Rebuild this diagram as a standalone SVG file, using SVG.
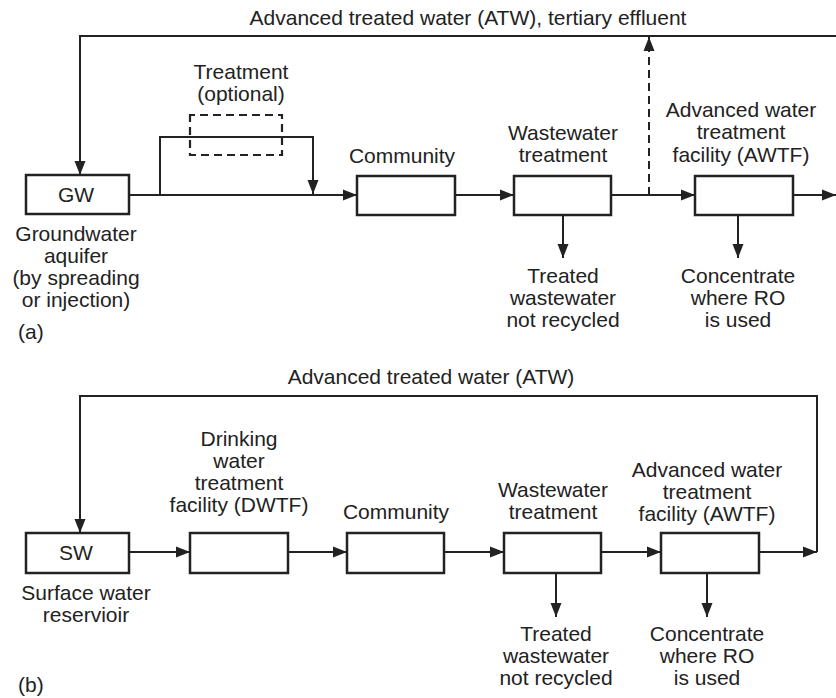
<svg xmlns="http://www.w3.org/2000/svg" width="836" height="698" viewBox="0 0 836 698">
<style>
text{font-family:"Liberation Sans",Arial,sans-serif;font-size:21px;fill:#222;text-anchor:middle}
.box{fill:#fff;stroke:#222;stroke-width:2.5}
.ln{fill:none;stroke:#222;stroke-width:2}
.arr{marker-end:url(#ah)}
.dash{stroke-dasharray:8,5}
</style>
<defs>
<marker id="ah" markerUnits="userSpaceOnUse" markerWidth="15" markerHeight="12" refX="14" refY="6" orient="auto">
<path d="M0,0.5 L14,6 L0,11.5 Z" fill="#222"/>
</marker>
</defs>
<g id="connectors">
<polyline class="ln arr" points="836,36 80,36 80,175"/>
<line class="ln arr" x1="129" y1="195" x2="357" y2="195"/>
<polyline class="ln arr" points="160,195 160,137 313,137 313,194"/>
<line class="ln arr" x1="455" y1="195" x2="514" y2="195"/>
<line class="ln arr" x1="611" y1="195" x2="695" y2="195"/>
<line class="ln dash arr" x1="649" y1="195" x2="649" y2="37"/>
<line class="ln arr" x1="793" y1="195" x2="836" y2="195"/>
<line class="ln arr" x1="563" y1="215" x2="563" y2="258"/>
<line class="ln arr" x1="738" y1="215" x2="738" y2="258"/>
<polyline class="ln" points="80,533 80,396 817,396 817,552"/>
<line class="ln arr" x1="80" y1="420" x2="80" y2="533"/>
<line class="ln arr" x1="129" y1="552" x2="190" y2="552"/>
<line class="ln arr" x1="288" y1="552" x2="347" y2="552"/>
<line class="ln arr" x1="444" y1="552" x2="504" y2="552"/>
<line class="ln arr" x1="601" y1="552" x2="661" y2="552"/>
<line class="ln arr" x1="759" y1="552" x2="817" y2="552"/>
<line class="ln arr" x1="556" y1="573" x2="556" y2="617"/>
<line class="ln arr" x1="707" y1="573" x2="707" y2="617"/>
</g>
<g id="treatment-optional">
<rect x="190" y="115" width="92" height="40" fill="none" stroke="#222" stroke-width="2.2" stroke-dasharray="8,5" stroke-dashoffset="3"/>
<text x="241" y="79">Treatment</text>
<text x="241" y="101">(optional)</text>
</g>
<g id="gw">
<rect class="box" x="26" y="175" width="103" height="39"/>
<text x="76" y="202">GW</text>
<text x="76" y="241">Groundwater</text>
<text x="76" y="263">aquifer</text>
<text x="76" y="285">(by spreading</text>
<text x="76" y="307">or injection)</text>
</g>
<g id="community-a">
<rect class="box" x="357" y="176" width="98" height="39"/>
<text x="402" y="163">Community</text>
</g>
<g id="ww-a">
<rect class="box" x="514" y="176" width="97" height="39"/>
<text x="563" y="140">Wastewater</text>
<text x="563" y="162">treatment</text>
</g>
<g id="awtf-a">
<rect class="box" x="695" y="176" width="98" height="39"/>
<text x="741" y="117">Advanced water</text>
<text x="741" y="139">treatment</text>
<text x="741" y="162">facility (AWTF)</text>
</g>
<g id="out-a">
<text x="563" y="283">Treated</text>
<text x="563" y="305">wastewater</text>
<text x="563" y="327">not recycled</text>
<text x="738" y="283">Concentrate</text>
<text x="738" y="305">where RO</text>
<text x="738" y="327">is used</text>
<text x="468" y="25">Advanced treated water (ATW), tertiary effluent</text>
<text x="18" y="339" style="text-anchor:start">(a)</text>
</g>
<g id="sw">
<rect class="box" x="26" y="533" width="103" height="40"/>
<text x="76" y="560">SW</text>
<text x="86" y="600">Surface water</text>
<text x="86" y="622">reservioir</text>
</g>
<g id="dwtf">
<rect class="box" x="190" y="533" width="98" height="40"/>
<text x="239" y="446">Drinking</text>
<text x="239" y="468">water</text>
<text x="239" y="490">treatment</text>
<text x="239" y="512">facility (DWTF)</text>
</g>
<g id="community-b">
<rect class="box" x="347" y="533" width="97" height="40"/>
<text x="396" y="519">Community</text>
</g>
<g id="ww-b">
<rect class="box" x="504" y="533" width="97" height="40"/>
<text x="553" y="497">Wastewater</text>
<text x="553" y="519">treatment</text>
</g>
<g id="awtf-b">
<rect class="box" x="661" y="533" width="98" height="40"/>
<text x="707" y="477">Advanced water</text>
<text x="707" y="499">treatment</text>
<text x="707" y="521">facility (AWTF)</text>
</g>
<g id="out-b">
<text x="556" y="641">Treated</text>
<text x="556" y="663">wastewater</text>
<text x="556" y="685">not recycled</text>
<text x="707" y="641">Concentrate</text>
<text x="707" y="663">where RO</text>
<text x="707" y="685">is used</text>
<text x="431" y="384">Advanced treated water (ATW)</text>
<text x="18" y="692" style="text-anchor:start">(b)</text>
</g>
</svg>
